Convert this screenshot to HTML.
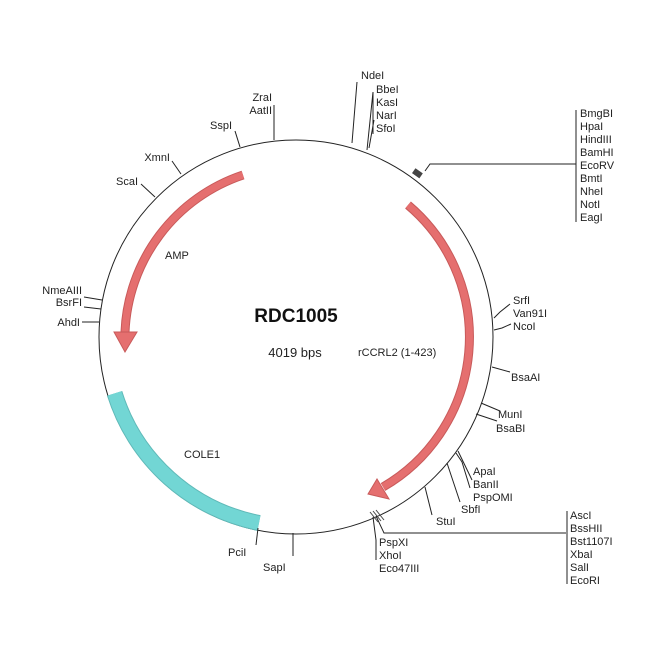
<!DOCTYPE html>
<html><head><meta charset="utf-8"><style>
html,body{margin:0;padding:0;background:#fff;}
svg{display:block;font-family:"Liberation Sans",Arial,sans-serif;}
text{font-size:11px;fill:#222;}
</style></head><body>
<svg width="650" height="650" viewBox="0 0 650 650" xmlns="http://www.w3.org/2000/svg">
<circle cx="296" cy="337" r="197" fill="none" stroke="#222" stroke-width="1"/>
<!-- COLE1 -->
<path d="M114.6,393.4 A190,190 0 0 0 259,523" fill="none" stroke="#5fb9b8" stroke-width="16"/>
<path d="M114.6,393.4 A190,190 0 0 0 259,523" fill="none" stroke="#72d6d4" stroke-width="14"/>
<!-- AMP -->
<path d="M243,175 A173,173 0 0 0 125,332" fill="none" stroke="#c85a5a" stroke-width="9"/>
<path d="M243,175 A173,173 0 0 0 125,332" fill="none" stroke="#e56f6f" stroke-width="7"/>
<polygon points="114,332 137,332 125,352" fill="#e56f6f" stroke="#c85a5a" stroke-width="1"/>
<!-- rCCRL2 -->
<path d="M408,205 A173,173 0 0 1 383,487" fill="none" stroke="#c85a5a" stroke-width="9"/>
<path d="M408,205 A173,173 0 0 1 383,487" fill="none" stroke="#e56f6f" stroke-width="7"/>
<polygon points="389,499 377,479 368,494" fill="#e56f6f" stroke="#c85a5a" stroke-width="1"/>

<g stroke="#222" stroke-width="1" fill="none">
<polyline points="352,143 357,82"/>
<polyline points="367,150 373,92 373,134"/>
<line x1="369" y1="148" x2="374" y2="120"/>
<polyline points="425,171 430,164 576,164"/>
<line x1="576" y1="110" x2="576" y2="222"/>
<polyline points="494,318 500,312 510,304"/>
<polyline points="494,330 502,328 511,324"/>
<line x1="492" y1="367" x2="510" y2="372"/>
<line x1="481" y1="403" x2="500" y2="411"/>
<line x1="476" y1="414" x2="497" y2="421"/>
<polyline points="456,453 462,462 470,488"/>
<line x1="458" y1="451" x2="472" y2="480"/>
<line x1="447" y1="463" x2="460" y2="502"/>
<line x1="425" y1="487" x2="432" y2="515"/>
<polyline points="376,516 384,533 566,533"/>
<line x1="567" y1="511" x2="567" y2="584"/>
<polyline points="373,517 376,540 376,560"/>
<line x1="293" y1="533" x2="293" y2="556"/>
<line x1="258" y1="528" x2="256" y2="545"/>
<line x1="99" y1="322" x2="82" y2="322"/>
<line x1="102" y1="300" x2="84" y2="297"/>
<line x1="101" y1="309" x2="84" y2="307"/>
<line x1="155" y1="197" x2="141" y2="184"/>
<line x1="181" y1="174" x2="172" y2="161"/>
<line x1="240" y1="147" x2="235" y2="131"/>
<line x1="274" y1="140" x2="274" y2="105"/>
</g>
<rect x="413" y="170" width="9" height="6" fill="#444" transform="rotate(35 417 173)"/>
<g stroke="#444" stroke-width="1"><line x1="370" y1="512" x2="378" y2="522"/><line x1="373" y1="511" x2="381" y2="521"/><line x1="376" y1="510" x2="384" y2="520"/></g>

<text x="361" y="79">NdeI</text>
<text x="376" y="93">BbeI</text>
<text x="376" y="106">KasI</text>
<text x="376" y="119">NarI</text>
<text x="376" y="132">SfoI</text>
<text x="580" y="117">BmgBI</text>
<text x="580" y="130">HpaI</text>
<text x="580" y="143">HindIII</text>
<text x="580" y="156">BamHI</text>
<text x="580" y="169">EcoRV</text>
<text x="580" y="182">BmtI</text>
<text x="580" y="195">NheI</text>
<text x="580" y="208">NotI</text>
<text x="580" y="221">EagI</text>
<text x="513" y="304">SrfI</text>
<text x="513" y="317">Van91I</text>
<text x="513" y="330">NcoI</text>
<text x="511" y="381">BsaAI</text>
<text x="498" y="418">MunI</text>
<text x="496" y="432">BsaBI</text>
<text x="473" y="475">ApaI</text>
<text x="473" y="488">BanII</text>
<text x="473" y="501">PspOMI</text>
<text x="461" y="513">SbfI</text>
<text x="436" y="525">StuI</text>
<text x="570" y="519">AscI</text>
<text x="570" y="532">BssHII</text>
<text x="570" y="545">Bst1107I</text>
<text x="570" y="558">XbaI</text>
<text x="570" y="571">SalI</text>
<text x="570" y="584">EcoRI</text>
<text x="379" y="546">PspXI</text>
<text x="379" y="559">XhoI</text>
<text x="379" y="572">Eco47III</text>
<text x="263" y="571">SapI</text>
<text x="228" y="556">PciI</text>
<text x="80" y="326" text-anchor="end">AhdI</text>
<text x="82" y="294" text-anchor="end">NmeAIII</text>
<text x="82" y="306" text-anchor="end">BsrFI</text>
<text x="138" y="185" text-anchor="end">ScaI</text>
<text x="170" y="161" text-anchor="end">XmnI</text>
<text x="232" y="129" text-anchor="end">SspI</text>
<text x="272" y="101" text-anchor="end">ZraI</text>
<text x="272" y="114" text-anchor="end">AatII</text>

<text x="296" y="322" text-anchor="middle" style="font-size:19px;font-weight:bold;fill:#111">RDC1005</text>
<text x="295" y="357" text-anchor="middle" style="font-size:13px">4019 bps</text>
<text x="358" y="356" style="font-size:11px">rCCRL2 (1-423)</text>
<text x="165" y="259" style="font-size:11px">AMP</text>
<text x="184" y="458" style="font-size:11px">COLE1</text>
</svg>
</body></html>
